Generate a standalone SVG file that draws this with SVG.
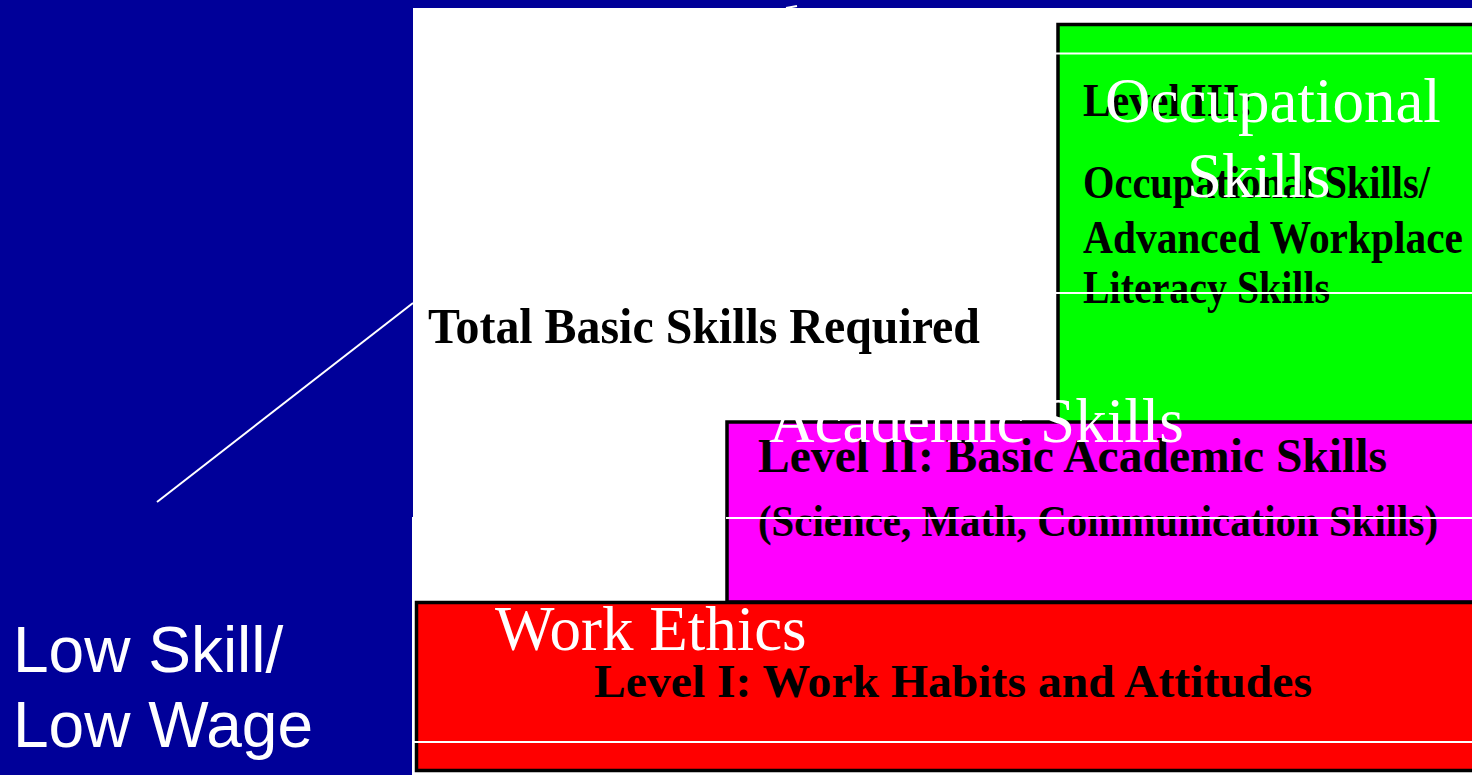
<svg xmlns="http://www.w3.org/2000/svg" width="1472" height="775" viewBox="0 0 1472 775">
<style>
.box{stroke:#000;stroke-width:3.5}
.lbl{font-family:"Liberation Serif","Times New Roman",serif;font-weight:bold;fill:#000}
.ovl{font-family:"Liberation Serif","Times New Roman",serif;fill:#fff;font-size:63px}
.side{font-family:"Liberation Sans",Arial,sans-serif;fill:#fff;font-size:64px}
.rule{stroke:#fff;stroke-width:2}
</style>
<rect id="background" x="0" y="0" width="1472" height="775" fill="#000099"/>
<path id="canvas" d="M413,8 H1472 V775 H412 V517 H413 Z" fill="#fff"/>
<g id="total-label">
<text class="lbl" x="428" y="343" font-size="51" textLength="552" lengthAdjust="spacingAndGlyphs">Total Basic Skills Required</text>
</g>
<g id="level3">
<rect class="box" x="1058" y="24.5" width="430" height="400" fill="#00ff00"/>
<text class="lbl" x="1083" y="116" font-size="47" textLength="170" lengthAdjust="spacingAndGlyphs">Level III:</text>
<text class="lbl" x="1083" y="198" font-size="47" textLength="347" lengthAdjust="spacingAndGlyphs">Occupational Skills/</text>
<text class="lbl" x="1083" y="253" font-size="47" textLength="380" lengthAdjust="spacingAndGlyphs">Advanced Workplace</text>
<text class="lbl" x="1083" y="303" font-size="47" textLength="247" lengthAdjust="spacingAndGlyphs">Literacy Skills</text>
</g>
<g id="level2">
<rect class="box" x="727" y="422" width="760" height="180" fill="#ff00ff"/>
<text class="lbl" x="758" y="472" font-size="48" textLength="629" lengthAdjust="spacingAndGlyphs">Level II: Basic Academic Skills</text>
<text class="lbl" x="758" y="536" font-size="45" textLength="680" lengthAdjust="spacingAndGlyphs">(Science, Math, Communication Skills)</text>
</g>
<g id="level1">
<rect class="box" x="416.5" y="602.5" width="1070" height="168" fill="#ff0000"/>
<text class="lbl" x="594" y="697" font-size="47" textLength="718" lengthAdjust="spacingAndGlyphs">Level I: Work Habits and Attitudes</text>
</g>
<g id="rules">
<line class="rule" x1="1055" y1="53.5" x2="1472" y2="53.5"/>
<line class="rule" x1="1055" y1="293" x2="1472" y2="293"/>
<line class="rule" x1="726" y1="518" x2="1472" y2="518"/>
<line class="rule" x1="413" y1="742" x2="1472" y2="742"/>
<line class="rule" x1="786" y1="8" x2="797" y2="6"/>
</g>
<g id="overlay-occupational">
<text class="ovl" x="1105" y="122">Occupational</text>
<text class="ovl" x="1187" y="197">Skills</text>
</g>
<g id="overlay-academic">
<text class="ovl" x="769" y="442">Academic Skills</text>
</g>
<g id="overlay-work">
<text class="ovl" x="495" y="650">Work Ethics</text>
</g>
<g id="low-skill">
<text class="side" x="13" y="672">Low Skill/</text>
<text class="side" x="13" y="747">Low Wage</text>
</g>
<g id="connectors">
<line x1="157" y1="502" x2="413" y2="303" stroke="#fff" stroke-width="2"/>
</g>
</svg>
